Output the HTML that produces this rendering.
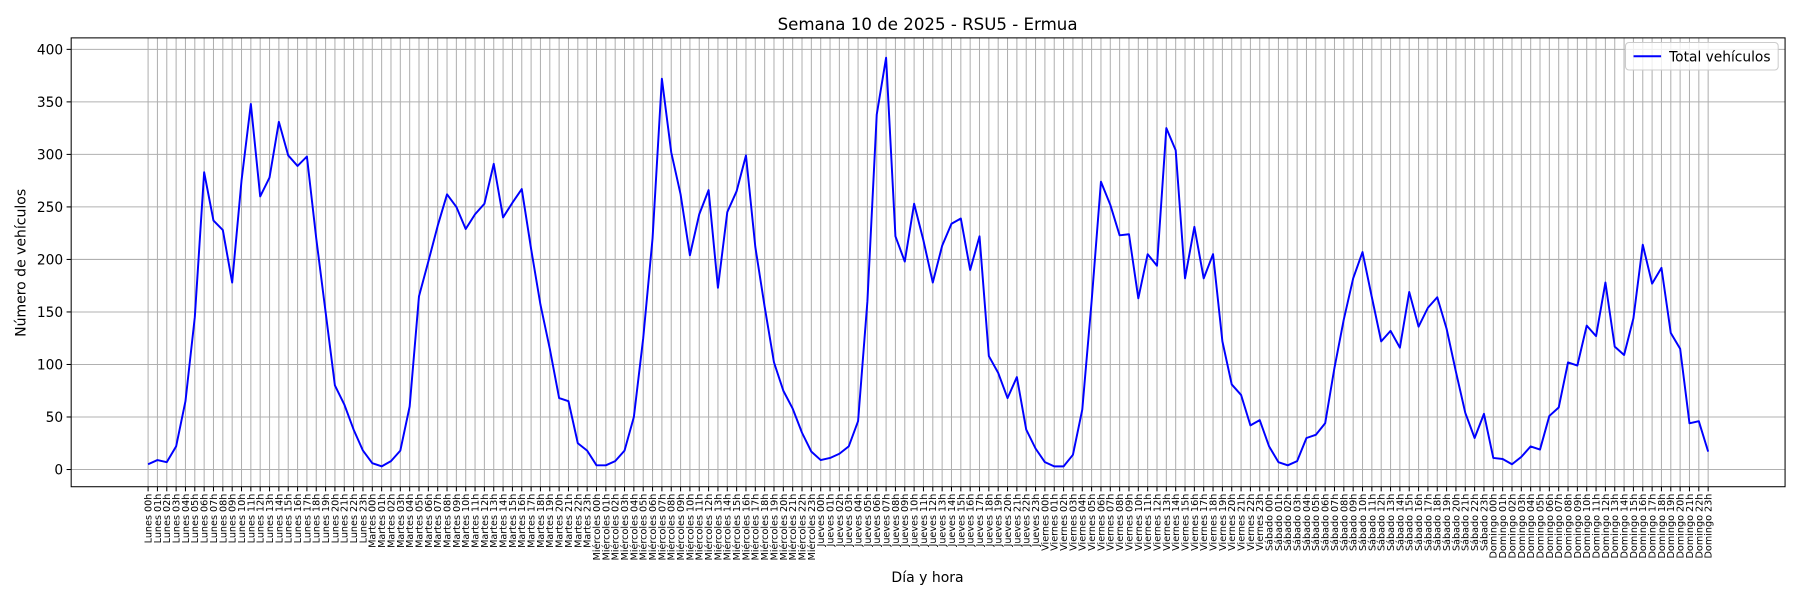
<!DOCTYPE html>
<html><head><meta charset="utf-8"><style>
body{margin:0;background:#fff}
svg{display:block;font-family:"DejaVu Sans","Liberation Sans",sans-serif}
</style></head><body>
<svg id="chart" width="1800" height="600" viewBox="0 0 1568 522.67" xmlns="http://www.w3.org/2000/svg">
<rect width="1568" height="523" fill="#fff"/>
<text x="808" y="26" font-size="14.5" text-anchor="middle">Semana 10 de 2025 - RSU5 - Ermua</text>
<g id="grid"></g>
<g id="yticks"></g>
<g id="xticks"></g>
<polyline id="line" fill="none" stroke="#0000ff" stroke-width="1.7" stroke-linejoin="round"/>
<rect x="62" y="33" width="1493" height="391" fill="none" stroke="#000" stroke-width="0.9"/>
<text transform="translate(22,229) rotate(-90)" font-size="12.2" text-anchor="middle">Número de vehículos</text>
<text x="808" y="507" font-size="12.2" text-anchor="middle">Día y hora</text>
<g>
<rect x="1416" y="37" width="133" height="24" rx="3" fill="#fff" fill-opacity="0.8" stroke="#ccc" stroke-width="0.9"/>
<line x1="1423" y1="49" x2="1447" y2="49" stroke="#0000ff" stroke-width="1.7"/>
<text x="1454" y="53.5" font-size="12">Total vehículos</text>
</g>
</svg>
<script>
const days = ["Lunes","Martes","Miércoles","Jueves","Viernes","Sábado","Domingo"];
const yTicks = [0,50,100,150,200,250,300,350,400];
const lunes = [5,9,7,22,65,145,283,237,228,178,275,348,260,278,331,299,289,298,220,150,80,62,38,18];
const martes = [6,3,8,18,60,165,198,232,262,250,229,243,253,291,240,254,267,210,157,115,68,65,25,18];
const miercoles = [4,4,8,18,50,125,220,372,302,262,204,243,266,173,245,265,299,212,155,102,75,58,35,17];
const jueves = [9,11,15,22,46,160,338,392,222,198,253,218,178,213,234,239,190,222,108,92,68,88,38,20];
const viernes = [7,3,3,14,57,160,274,252,223,224,163,205,194,325,304,182,231,182,205,122,81,71,42,47];
const sabado = [22,7,4,8,30,33,44,97,143,182,207,164,122,132,116,169,136,154,164,134,93,54,30,53];
const domingo = [11,10,5,12,22,19,51,59,102,99,137,127,178,117,109,144,214,177,192,130,115,44,46,17];
const values = [].concat(lunes,martes,miercoles,jueves,viernes,sabado,domingo);
const NS="http://www.w3.org/2000/svg";
const n=values.length;
const xs=i=>129+i*(1488-129)/(n-1);
const ys=v=>409-v*(409-43)/400;
const grid=document.getElementById('grid'),yt=document.getElementById('yticks'),xt=document.getElementById('xticks');
function mk(tag,attrs,parent){const e=document.createElementNS(NS,tag);for(const k in attrs)e.setAttribute(k,attrs[k]);parent.appendChild(e);return e;}
yTicks.forEach(v=>{
  const y=ys(v);
  const g=mk('line',{x1:62,x2:1555,y1:y,y2:y,stroke:'#b0b0b0','stroke-width':0.9},grid);
  
  
  mk('line',{x1:58,x2:62,y1:y,y2:y,stroke:'#000','stroke-width':0.9},yt);
  const t=mk('text',{x:55,y:y+4.3,'font-size':12,'text-anchor':'end'},yt);
  
  
  t.textContent=v;
});
const pts=[];
for(let i=0;i<n;i++){
  const x=xs(i);
  const g=mk('line',{x1:x,x2:x,y1:33,y2:424,stroke:'#b0b0b0','stroke-width':0.9},grid);
  
  
  mk('line',{x1:x,x2:x,y1:424,y2:428,stroke:'#000','stroke-width':0.9},xt);
  const lab=days[Math.floor(i/24)]+' '+String(i%24).padStart(2,'0')+'h';
  const t=mk('text',{transform:`translate(${x+3},430) rotate(-90)`,'font-size':8.4,'text-anchor':'end'},xt);
  
  
  t.textContent=lab;
  pts.push(x.toFixed(2)+','+ys(values[i]).toFixed(2));
}
document.getElementById('line').setAttribute('points',pts.join(' '));
</script>
</body></html>
